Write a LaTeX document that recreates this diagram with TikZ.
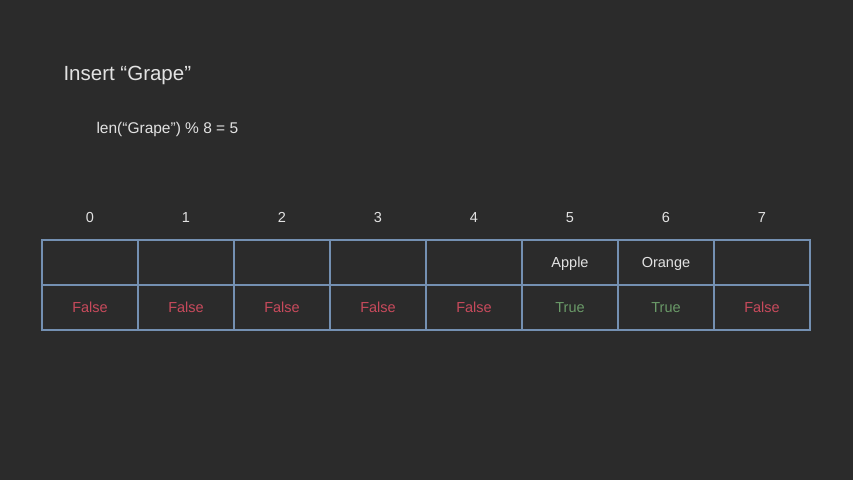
\documentclass[tikz,border=0pt]{standalone}
\usepackage{fontspec}
\setmainfont{Liberation Sans}
\usetikzlibrary{positioning}
\definecolor{bgdark}{HTML}{2B2B2B}
\definecolor{gridblue}{HTML}{7490B2}
\definecolor{txtlight}{HTML}{E2E2E2}
\definecolor{falsered}{HTML}{C84A5C}
\definecolor{truegreen}{HTML}{6A9A68}
\tikzset{
  cell/.style={draw=gridblue, line width=1.5pt, minimum width=96pt, minimum height=45pt, inner sep=0pt, text height=12pt, text depth=2pt, font=\fontsize{14.5}{16}\selectfont},
  idx/.style={text=txtlight, inner sep=0pt, text height=12pt, text depth=2pt, font=\fontsize{14.5}{16}\selectfont},
}
\begin{document}
\begin{tikzpicture}[x=1pt, y=-1pt]
	\fill[bgdark] (0,0) rectangle (853,480);
	\useasboundingbox (0,0) rectangle (853,480);

	\node[anchor=west, text=txtlight, font=\fontsize{20.5}{24}\selectfont] (title) at (60,75) {Insert “Grape”};
	\node[anchor=west, text=txtlight, font=\fontsize{15.5}{18}\selectfont] (hash) at (93,129) {len(“Grape”) \% 8 = 5};

	% index labels, slots and flags
	\foreach \i/\key/\flag/\col in {0//False/falsered, 1//False/falsered, 2//False/falsered, 3//False/falsered, 4//False/falsered, 5/Apple/True/truegreen, 6/Orange/True/truegreen, 7//False/falsered} {
		\node[idx] (idx\i) at (90+96*\i,217) {\i};
		\node[cell, text=txtlight] (slot\i) at (90+96*\i,262.5) {\key};
		\node[cell, text=\col] (flag\i) at (90+96*\i,307.5) {\flag};
	}

\end{tikzpicture}
\end{document}
